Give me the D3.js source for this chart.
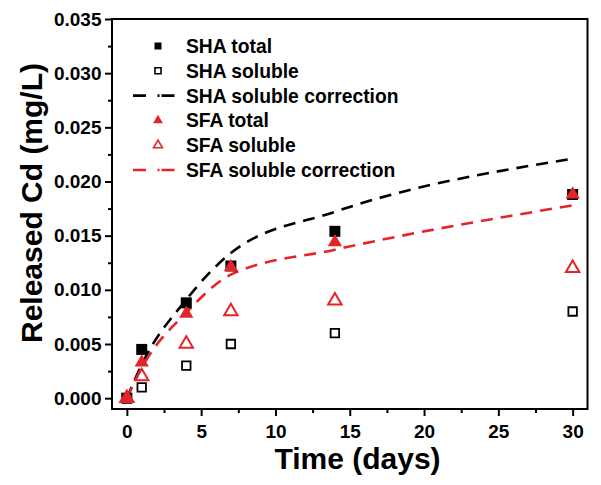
<!DOCTYPE html>
<html>
<head>
<meta charset="utf-8">
<script src="https://cdn.jsdelivr.net/npm/d3@7"></script>
<style>
  html, body { margin: 0; padding: 0; background: #fff; }
  svg { display: block; }
  text { font-family: "Liberation Sans", Arial, sans-serif; font-weight: bold; }
</style>
</head>
<body>
<svg id="chart" width="601" height="485"></svg>
<script>
// ---- data ----
const days = [0, 1, 4, 7, 14, 30];
const shaTotal = [0, 0.0045, 0.0088, 0.0122, 0.0154, 0.0188];
const shaSoluble = [0, 0.0010, 0.0030, 0.0050, 0.0060, 0.0080];
const shaCorrection = [0, 0.0031, 0.0091, 0.0134, 0.0172, 0.0221];
const sfaTotal = [0, 0.0033, 0.0078, 0.0121, 0.0144, 0.0188];
const sfaSoluble = [0, 0.0020, 0.0050, 0.0080, 0.0090, 0.0120];
const sfaCorrection = [0, 0.0028, 0.0079, 0.0114, 0.0137, 0.0178];
const xTicks = [0, 5, 10, 15, 20, 25, 30];
const xMinorTicks = [2.5, 7.5, 12.5, 17.5, 22.5, 27.5];
const yTicks = [0, 0.005, 0.010, 0.015, 0.020, 0.025, 0.030, 0.035];
const yMinorTicks = [0.0025, 0.0075, 0.0125, 0.0175, 0.0225, 0.0275, 0.0325];
const legendLabels = ["SHA total", "SHA soluble", "SHA soluble correction",
                      "SFA total", "SFA soluble", "SFA soluble correction"];

const RED = "#e3242b";
const BLACK = "#000";

const svg = d3.select("#chart");
const pLeft = 112, pRight = 587.5, pTop = 19, pBottom = 409;

const x = d3.scaleLinear().domain([-1, 31]).range([pLeft, pRight]);
const y = d3.scaleLinear().domain([-0.001, 0.035]).range([pBottom, pTop]);

// axes
const gx = svg.append("g").attr("transform", `translate(0,${pBottom})`)
  .call(d3.axisBottom(x).tickValues(xTicks).tickSize(7).tickPadding(9).tickFormat(d3.format("d")));
const gxm = svg.append("g").attr("transform", `translate(0,${pBottom})`)
  .call(d3.axisBottom(x).tickValues(xMinorTicks).tickSize(4).tickFormat(""));
const gy = svg.append("g").attr("transform", `translate(${pLeft},0)`)
  .call(d3.axisLeft(y).tickValues(yTicks).tickSize(7).tickPadding(3.5).tickFormat(d3.format(".3f")));
const gym = svg.append("g").attr("transform", `translate(${pLeft},0)`)
  .call(d3.axisLeft(y).tickValues(yMinorTicks).tickSize(4).tickFormat(""));

[gx, gxm, gy, gym].forEach(g => {
  g.select(".domain").remove();
  g.selectAll(".tick line").attr("stroke", "#000").attr("stroke-width", 2);
  g.selectAll("text").attr("fill", "#000").style("font-size", "19px")
    .style("font-family", "'Liberation Sans', Arial, sans-serif").style("font-weight", "bold");
});

// frame
svg.append("rect").attr("x", pLeft).attr("y", pTop)
  .attr("width", pRight - pLeft).attr("height", pBottom - pTop)
  .attr("fill", "none").attr("stroke", "#000").attr("stroke-width", 2);

// axis titles
svg.append("text").attr("x", 357.5).attr("y", 469)
  .attr("text-anchor", "middle").style("font-size", "30px").text("Time (days)");
svg.append("text").attr("transform", "translate(42,203) rotate(-90)")
  .attr("text-anchor", "middle").style("font-size", "30px").text("Released Cd (mg/L)");

// lines
const line = d3.line().x(d => x(d[0])).y(d => y(d[1])).curve(d3.curveMonotoneX);
svg.append("path").datum(days.map((d, i) => [d, shaCorrection[i]]))
  .attr("d", line).attr("fill", "none").attr("stroke", BLACK)
  .attr("stroke-width", 2.6).attr("stroke-dasharray", "12,8");
svg.append("path").datum(days.map((d, i) => [d, sfaCorrection[i]]))
  .attr("d", line).attr("fill", "none").attr("stroke", RED)
  .attr("stroke-width", 2.6).attr("stroke-dasharray", "12,8");

// markers
const sqFilled = d3.symbol().type(d3.symbolSquare).size(11 * 11);
const sqOpen = d3.symbol().type(d3.symbolSquare).size(8.5 * 8.5);
const triFilled = d3.symbol().type(d3.symbolTriangle).size(88);
const triOpen = d3.symbol().type(d3.symbolTriangle).size(78);

function drawPts(vals, sym, fill, stroke, sw) {
  svg.append("g").selectAll("path").data(days.map((d, i) => [d, vals[i]])).join("path")
    .attr("transform", d => `translate(${x(d[0])},${y(d[1])})`)
    .attr("d", sym).attr("fill", fill).attr("stroke", stroke).attr("stroke-width", sw);
}
drawPts(shaSoluble, sqOpen, "none", BLACK, 1.8);
drawPts(shaTotal, sqFilled, BLACK, "none", 0);
drawPts(sfaSoluble, triOpen, "none", RED, 2);
drawPts(sfaTotal, triFilled, RED, "none", 0);

// legend
const lg = svg.append("g");
const lx = 158, tx = 186, ly0 = 46, ldy = 24.8;
const lSqF = d3.symbol().type(d3.symbolSquare).size(49);
const lSqO = d3.symbol().type(d3.symbolSquare).size(36);
const lTriF = d3.symbol().type(d3.symbolTriangle).size(42);
const lTriO = d3.symbol().type(d3.symbolTriangle).size(34);
legendLabels.forEach((lab, i) => {
  const yy = ly0 + i * ldy;
  const col = i < 3 ? BLACK : RED;
  const kind = i % 3;
  if (kind === 2) {
    lg.append("line").attr("x1", 133).attr("x2", 175).attr("y1", yy).attr("y2", yy)
      .attr("stroke", col).attr("stroke-width", 2.6).attr("stroke-dasharray", "13,11.5,2,2,13");
  } else {
    let sym, fill, stroke;
    if (i === 0) { sym = lSqF; fill = col; stroke = "none"; }
    else if (i === 1) { sym = lSqO; fill = "none"; stroke = col; }
    else if (i === 3) { sym = lTriF; fill = col; stroke = "none"; }
    else { sym = lTriO; fill = "none"; stroke = col; }
    lg.append("path").attr("transform", `translate(${lx},${yy})`).attr("d", sym)
      .attr("fill", fill).attr("stroke", stroke).attr("stroke-width", 1.6);
  }
  lg.append("text").attr("x", tx).attr("y", yy).attr("dy", "0.36em")
    .style("font-size", "19.3px").attr("fill", "#000").text(lab);
});
</script>
</body>
</html>
